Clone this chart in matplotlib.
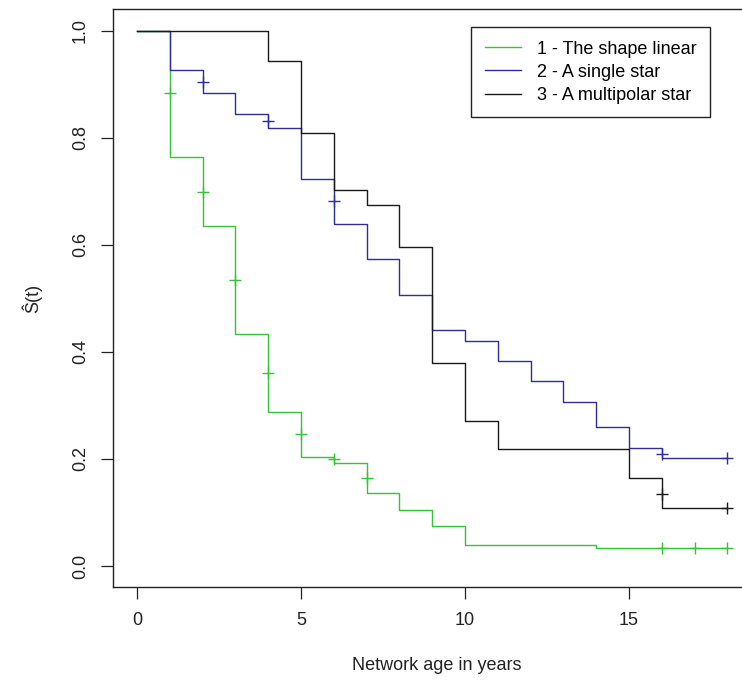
import matplotlib as mpl
import matplotlib.pyplot as plt
import numpy as np

mpl.rcParams["font.family"] = ["Liberation Sans", "DejaVu Sans"]
mpl.rcParams["font.size"] = 13

# Kaplan-Meier step curves
linear_t = [0, 1, 2, 3, 4, 5, 6, 7, 8, 9, 10, 14, 18]
linear_s = [1.0, 0.764, 0.635, 0.433, 0.288, 0.204, 0.193, 0.136, 0.104, 0.075, 0.040, 0.033, 0.033]
linear_cens_t = [1, 2, 3, 4, 5, 6, 7, 16, 17, 18]
linear_cens_s = [0.883, 0.698, 0.534, 0.361, 0.246, 0.199, 0.164, 0.033, 0.033, 0.033]

single_t = [0, 1, 2, 3, 4, 5, 6, 7, 8, 9, 10, 11, 12, 13, 14, 15, 16, 18]
single_s = [1.0, 0.927, 0.883, 0.845, 0.818, 0.723, 0.639, 0.573, 0.507, 0.440,
            0.420, 0.383, 0.346, 0.306, 0.259, 0.221, 0.201, 0.201]
single_cens_t = [2, 4, 6, 16, 18]
single_cens_s = [0.905, 0.832, 0.681, 0.210, 0.201]

multi_t = [0, 4, 5, 6, 7, 8, 9, 10, 11, 15, 16, 18]
multi_s = [1.0, 0.944, 0.809, 0.703, 0.675, 0.595, 0.379, 0.270, 0.218, 0.164, 0.109, 0.109]
multi_cens_t = [16, 18]
multi_cens_s = [0.134, 0.109]

labels = ["1 - The shape linear", "2 - A single star", "3 - A multipolar star"]
colors = ["#35c435", "#2e2e96", "#1a1a1a"]

x_ticks = [0, 5, 10, 15]
y_ticks = [0.0, 0.2, 0.4, 0.6, 0.8, 1.0]

fig = plt.figure(figsize=(7.42, 6.84), dpi=100)
W, H = 742.0, 684.0
ax = fig.add_axes([113.3 / W, (H - 587.4) / H, 637.7 / W, 578.1 / H])

curves = [
    (linear_t, linear_s, linear_cens_t, linear_cens_s),
    (single_t, single_s, single_cens_t, single_cens_s),
    (multi_t, multi_s, multi_cens_t, multi_cens_s),
]
for (t, s, ct, cs), lab, col in zip(curves, labels, colors):
    ax.step(t, s, where="post", color=col, lw=1.0, label=lab)
    ax.plot(ct, cs, linestyle="none", marker="+", markersize=9, mew=1.0, color=col)

ax.set_xlim(-0.72, 18.72)
ax.set_ylim(-0.04, 1.04)
ax.set_xticks(x_ticks)
ax.set_xticklabels([str(v) for v in x_ticks])
ax.set_yticks(y_ticks)
ax.set_yticklabels(["%.1f" % v for v in y_ticks], rotation=90, va="center", ha="right")
ax.tick_params(axis="both", length=8.5, width=0.9, pad=9, colors="#222222", labelsize=13)
for sp in ax.spines.values():
    sp.set_linewidth(1.0)
    sp.set_color("#222222")

ax.set_xlabel("Network age in years", color="#222222")
ax.set_ylabel("Ŝ(t)", color="#222222")
ax.xaxis.set_label_coords((437 - 113.3) / 637.7, (587.4 - 657) / 578.1)
ax.yaxis.set_label_coords((42 - 113.3) / 637.7, 0.5)

leg = ax.legend(loc="upper left", bbox_to_anchor=((471 - 113.3) / 637.7, (587.4 - 27) / 578.1),
                frameon=True, fancybox=False, edgecolor="#222222", framealpha=1,
                handlelength=2.0, handletextpad=0.9, borderpad=0.75, labelspacing=0.34,
                borderaxespad=0)
leg.get_frame().set_linewidth(1.0)

fig.savefig("out.png", dpi=100)
